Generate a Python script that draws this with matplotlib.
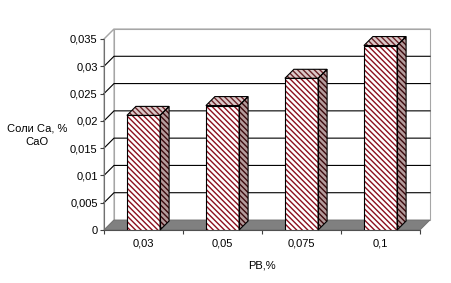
import matplotlib
matplotlib.use("Agg")
import matplotlib.pyplot as plt
from matplotlib.patches import Polygon, Rectangle

plt.rcParams['font.family'] = ['Liberation Sans', 'DejaVu Sans']
plt.rcParams['hatch.linewidth'] = 1.0

# ── Data ──────────────────────────────────────────────────
categories = ["0,03", "0,05", "0,075", "0,1"]
values = [0.0210, 0.0228, 0.0278, 0.0338]
yticks = [0, 0.005, 0.01, 0.015, 0.02, 0.025, 0.03, 0.035]
ytick_labels = ["0", "0,005", "0,01", "0,015", "0,02", "0,025", "0,03", "0,035"]

# ── Figure / axes (front plane of the pseudo-3D box) ──────
W, H = 452, 283
fig = plt.figure(figsize=(W / 100, H / 100), dpi=100)
ax_l, ax_b, ax_w, ax_h = 104, 283 - 230, 316, 191    # pixels
ax = fig.add_axes([ax_l / W, ax_b / H, ax_w / W, ax_h / H])
ncat = len(categories)
ymax = yticks[-1]
ax.set_xlim(0, ncat)
ax.set_ylim(0, ymax)
for s in ax.spines.values():
    s.set_visible(False)
ax.patch.set_visible(False)

# depth offsets (pixels -> data units)
px_x = ncat / ax_w
px_y = ymax / ax_h
DX, DY = 10 * px_x, 10 * px_y        # walls / floor
BDX, BDY = 9 * px_x, 9 * px_y        # bar depth

wall_edge = '#a6a6a6'
# back wall
ax.add_patch(Rectangle((DX, DY), ncat, ymax, facecolor='white', edgecolor=wall_edge,
                       lw=0.8, clip_on=False, zorder=0))
# left wall
ax.add_patch(Polygon([(0, 0), (DX, DY), (DX, ymax + DY), (0, ymax)], closed=True,
                     facecolor='white', edgecolor=wall_edge, lw=0.8, clip_on=False, zorder=0))
# floor
ax.add_patch(Polygon([(0, 0), (ncat, 0), (ncat + DX, DY), (DX, DY)], closed=True,
                     facecolor='#808080', edgecolor='#6e6e6e', lw=0.6, clip_on=False, zorder=1))

# gridlines (left wall diagonal + back wall)
for v in yticks[1:]:
    col = 'black' if v < ymax else wall_edge
    ax.plot([0, DX, ncat + DX], [v, v + DY, v + DY], color=col, lw=0.8,
            clip_on=False, zorder=1)

# front axis lines
ax.plot([0, 0], [0, ymax], color='#707070', lw=0.8, clip_on=False, zorder=2)
ax.plot([0, ncat], [0, 0], color='#505050', lw=0.8, clip_on=False, zorder=2)

# ── Bars ──────────────────────────────────────────────────
bw = 0.42
red = '#8c0f1e'
hatch = '\\' * 6
for i, v in enumerate(values):
    xc = i + 0.5
    x0, x1 = xc - bw / 2, xc + bw / 2
    side = [(x1, 0), (x1 + BDX, BDY), (x1 + BDX, v + BDY), (x1, v)]
    top = [(x0, v), (x1, v), (x1 + BDX, v + BDY), (x0 + BDX, v + BDY)]
    # side face
    ax.add_patch(Polygon(side, closed=True, facecolor='#b49c9c', edgecolor='#3c080c',
                         hatch=hatch, lw=0, clip_on=False, zorder=3))
    ax.add_patch(Polygon(side, closed=True, fill=False, edgecolor='black', lw=0.8,
                         clip_on=False, zorder=4))
    # top face
    ax.add_patch(Polygon(top, closed=True, facecolor='#dccaca', edgecolor='#6a2228',
                         hatch=hatch, lw=0, clip_on=False, zorder=3))
    ax.add_patch(Polygon(top, closed=True, fill=False, edgecolor='black', lw=0.8,
                         clip_on=False, zorder=4))

# front faces
ax.bar([i + 0.5 for i in range(ncat)], values, width=bw, facecolor='white',
       edgecolor=red, hatch=hatch, lw=0, zorder=3)
ax.bar([i + 0.5 for i in range(ncat)], values, width=bw, fill=False,
       edgecolor='black', lw=0.8, zorder=4)

# ── Ticks and labels ──────────────────────────────────────
ax.set_yticks(yticks)
ax.set_yticklabels(ytick_labels)
ax.tick_params(axis='y', length=3, width=0.8, color='#404040', pad=1.5, labelsize=8)

ax.set_xticks(range(ncat + 1))
ax.set_xticklabels([''] * (ncat + 1))
ax.set_xticks([i + 0.5 for i in range(ncat)], minor=True)
ax.set_xticklabels(categories, minor=True)
ax.tick_params(axis='x', which='major', length=3, width=0.8, color='#404040')
ax.tick_params(axis='x', which='minor', length=0, pad=6, labelsize=8)

fig.text(262 / W, 1 - 266 / H, "РВ,%", ha='center', va='center', fontsize=8)
fig.text(37 / W, 1 - 135 / H, "Соли Са, %\nСаО", ha='center', va='center',
         multialignment='center', fontsize=8, linespacing=1.45)

fig.savefig("out.png", dpi=100)
